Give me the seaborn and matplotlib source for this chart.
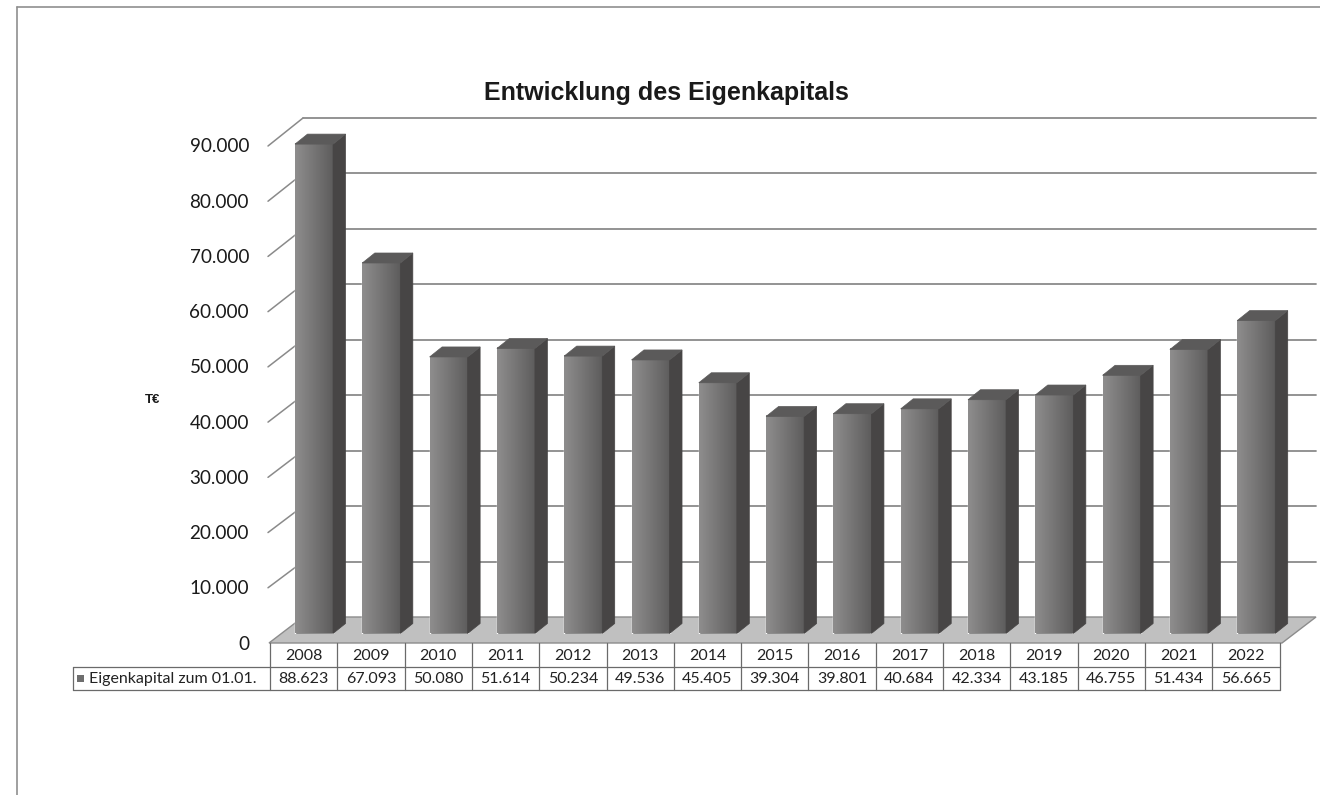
import numpy as np
import pandas as pd
import matplotlib
matplotlib.use("Agg")
import matplotlib.pyplot as plt
import seaborn as sns
from matplotlib.transforms import Affine2D, blended_transform_factory
from matplotlib.patches import Polygon, Rectangle
from matplotlib.colors import LinearSegmentedColormap

# ---------------- data ----------------
years = ["2008", "2009", "2010", "2011", "2012", "2013", "2014", "2015",
         "2016", "2017", "2018", "2019", "2020", "2021", "2022"]
values = [88623, 67093, 50080, 51614, 50234, 49536, 45405, 39304,
          39801, 40684, 42334, 43185, 46755, 51434, 56665]
y_ticks = [0, 10000, 20000, 30000, 40000, 50000, 60000, 70000, 80000, 90000]
title = "Entwicklung des Eigenkapitals"
series_label = "Eigenkapital zum 01.01."
unit_label = "T€"


def fmt(v):
    return f"{v:,.0f}".replace(",", ".")


sns.set_theme(style="white")
plt.rcParams['font.family'] = ['Lato', 'DejaVu Sans']

W, H = 1320, 795
fig = plt.figure(figsize=(W / 100, H / 100), dpi=100)
fig.patch.set_facecolor("white")
PX = Affine2D().scale(1, -1).translate(0, H)  # reference pixel coords (from top-left)

# plot area (front plane of bars)
ax_left, ax_right, ax_bottom, ax_top = 270, 1279.5, 633.5, 136.5
ax = fig.add_axes([ax_left / W, (H - ax_bottom) / H,
                   (ax_right - ax_left) / W, (ax_bottom - ax_top) / H])

df = pd.DataFrame({"Jahr": years, "Wert": values})
sns.barplot(data=df, x="Jahr", y="Wert", color="#707070", width=0.565,
            saturation=1, ax=ax, zorder=2)
xlim = (-0.654, 14.346)
ymax = 90000
ax.set_xlim(*xlim)
ax.set_ylim(0, ymax)
ax.axis("off")

px_per_x = (ax_right - ax_left) / (xlim[1] - xlim[0])
px_per_y = (ax_bottom - ax_top) / ymax
ddx = 12.5 / px_per_x
ddy = 10.0 / px_per_y

grad = LinearSegmentedColormap.from_list("g", ["#8e8d8d", "#5d5c5c"])
for p in list(ax.patches):
    x0, w, h = p.get_x(), p.get_width(), p.get_height()
    ax.imshow(np.linspace(0, 1, 64).reshape(1, -1), cmap=grad,
              extent=[x0, x0 + w, 0, h], aspect="auto", zorder=2.5,
              interpolation="bilinear")
    side = Polygon([(x0 + w, 0), (x0 + w + ddx, ddy), (x0 + w + ddx, h + ddy), (x0 + w, h)],
                   closed=True, fc="#474545", ec="#474545", lw=0.5, zorder=3, clip_on=False)
    top = Polygon([(x0, h), (x0 + ddx, h + ddy), (x0 + w + ddx, h + ddy), (x0 + w, h)],
                  closed=True, fc="#5b5a5a", ec="#5b5a5a", lw=0.5, zorder=3, clip_on=False)
    ax.add_patch(side)
    ax.add_patch(top)
ax.set_xlim(*xlim)
ax.set_ylim(0, ymax)


def back_y(v):
    return 617 - v / ymax * 499


def front_y(v):
    return 643 - v / ymax * 497


# back wall gridlines + left wall diagonals + tick labels
for v in y_ticks:
    by, fy = back_y(v), front_y(v)
    if v > 0:
        ax.plot([303, 1316], [by, by], transform=PX, color="#8a8a8a", lw=1.3,
                clip_on=False, zorder=0.2)
        ax.plot([268, 303], [fy, by], transform=PX, color="#8a8a8a", lw=1.1,
                clip_on=False, zorder=0.2)
    fig.text(249, fy + 1, fmt(v), transform=PX, ha="right", va="center",
             fontsize=13.6, color="#1a1a1a")

# floor
floor = Polygon([(269, 643), (1282, 643), (1316, 617), (303, 617)], closed=True,
                transform=PX, fc="#c0c0c0", ec="#8c8c8c", lw=1.0, zorder=0.5,
                clip_on=False)
ax.add_patch(floor)

# data table
tb = blended_transform_factory(ax.transData, PX)
line_kw = dict(color="#6a6a6a", lw=0.9, clip_on=False, zorder=1)
for i in range(len(years) + 1):
    xb = xlim[0] + i
    ax.plot([xb, xb], [643, 690], transform=tb, **line_kw)
ax.plot([73, ax_right], [667, 667], transform=PX, **line_kw)
ax.plot([73, ax_right], [690, 690], transform=PX, **line_kw)
ax.plot([73, 73], [667, 690], transform=PX, **line_kw)
for i, (yr, v) in enumerate(zip(years, values)):
    xc = xlim[0] + i + 0.5
    ax.text(xc, 656, yr, transform=tb, ha="center", va="center",
            fontsize=11.5, color="#222222", clip_on=False)
    ax.text(xc, 679, fmt(v), transform=tb, ha="center", va="center",
            fontsize=11.5, color="#222222", clip_on=False)
fig.add_artist(Rectangle((77, 675), 7, 7, transform=PX, fc="#6e6e6e", ec="none"))
fig.text(89, 679, series_label, transform=PX, ha="left", va="center",
         fontsize=11.5, color="#222222")

# title, unit label, border
fig.text(666, 93, title, transform=PX, ha="center", va="center",
         fontsize=18, fontweight="bold", family=["Liberation Sans", "DejaVu Sans"],
         color="#1a1a1a")
fig.text(153, 400, unit_label, transform=PX, ha="center", va="center",
         fontsize=9.5, fontweight="bold", family=["Liberation Sans", "DejaVu Sans"],
         color="#1a1a1a")
ax.plot([17, 17], [7, 795], transform=PX, color="#8f8f8f", lw=1.2, clip_on=False)
ax.plot([17, 1320], [7, 7], transform=PX, color="#8f8f8f", lw=1.2, clip_on=False)

fig.savefig("out.png", dpi=100, facecolor="white")
